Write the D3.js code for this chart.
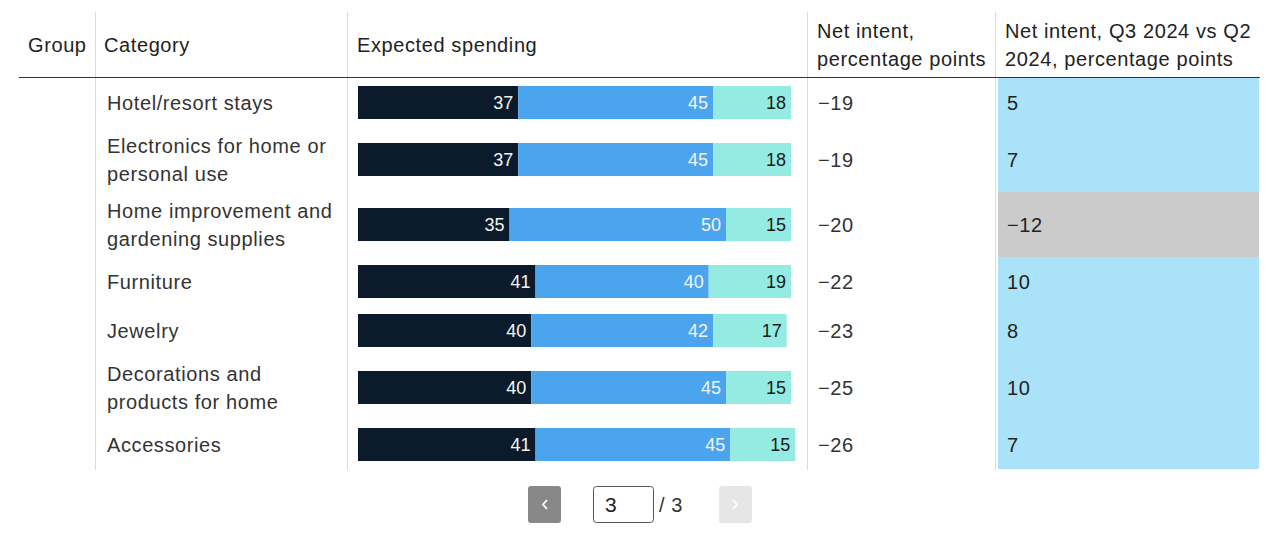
<!DOCTYPE html>
<html>
<head>
<meta charset="utf-8">
<script src="https://cdn.jsdelivr.net/npm/d3@7"></script>
<style>
  html, body { margin: 0; padding: 0; background: #fff; }
  svg { display: block; font-family: "Liberation Sans", Arial, sans-serif; }
</style>
</head>
<body>
<svg id="chart" width="1276" height="542"></svg>
<script>
// ---- data ----
const headers = ["Group", "Category", "Expected spending", "Net intent,\npercentage points", "Net intent, Q3 2024 vs Q2\n2024, percentage points"];
const categories = [
  "Hotel/resort stays",
  "Electronics for home or\npersonal use",
  "Home improvement and\ngardening supplies",
  "Furniture",
  "Jewelry",
  "Decorations and\nproducts for home",
  "Accessories"
];
const decrease = [37, 37, 35, 41, 40, 40, 41];
const stay = [45, 45, 50, 40, 42, 45, 45];
const increase = [18, 18, 15, 19, 17, 15, 15];
const netIntent = [-19, -19, -20, -22, -23, -25, -26];
const netChange = [5, 7, -12, 10, 8, 10, 7];
const currentPage = 3, totalPages = 3;

// ---- layout ----
const svg = d3.select("#chart");
const fmt = v => (v < 0 ? "\u2212" + Math.abs(v) : String(v));
const colX = { group: 28, cat: 107, bar: 358, net: 818, chg: 1007 };
const sepX = [95, 347, 807, 995];
const headerLineY = 77;
const lineH = 28;
const LS = 0.6;

const rows = categories.map((c, i) => {
  const lines = c.split("\n");
  return { i, lines, h: lines.length > 1 ? 65 : 49 };
});
let yAcc = headerLineY + 1;
rows.forEach(r => { r.y0 = yAcc; yAcc += r.h; r.cy = r.y0 + r.h / 2; });
const tableBottom = yAcc;

const x = d3.scaleLinear().domain([0, 100]).range([colX.bar, 791]);
const barH = 33;

// change column cells
svg.append("g").selectAll("rect").data(rows).join("rect")
  .attr("x", 998).attr("width", 1259 - 998)
  .attr("y", r => r.y0).attr("height", r => r.h)
  .attr("fill", r => netChange[r.i] < 0 ? "#cbcbcb" : "#aae3f9");

// separators
svg.append("g").selectAll("line").data(sepX).join("line")
  .attr("x1", d => d + 0.5).attr("x2", d => d + 0.5)
  .attr("y1", 12).attr("y2", tableBottom + 1)
  .attr("stroke", "#dcdcdc").attr("stroke-width", 1);

// header line
svg.append("line").attr("x1", 19).attr("x2", 1260)
  .attr("y1", headerLineY + 0.5).attr("y2", headerLineY + 0.5)
  .attr("stroke", "#333").attr("stroke-width", 1.2);

// headers
const headerXs = [28, 104, 357, 817, 1005];
headers.forEach((h, k) => {
  const lines = h.split("\n");
  const t = svg.append("text").attr("x", headerXs[k]).attr("fill", "#222")
    .attr("font-size", 20).attr("letter-spacing", LS);
  lines.forEach((ln, j) => {
    const cy = lines.length === 1 ? 45 : 31 + j * lineH;
    t.append("tspan").attr("x", headerXs[k]).attr("y", cy).attr("dy", "0.35em").text(ln);
  });
});

// category labels
svg.append("g").selectAll("text").data(rows).join("text")
  .attr("fill", "#333").attr("font-size", 20).attr("letter-spacing", LS)
  .each(function (r) {
    const t = d3.select(this);
    const n = r.lines.length;
    r.lines.forEach((ln, j) => {
      t.append("tspan").attr("x", colX.cat)
        .attr("y", r.cy + (j - (n - 1) / 2) * lineH).attr("dy", "0.35em").text(ln);
    });
  });

// stacked bars
const segColors = ["#0c1b2b", "#4ba5ee", "#93ebe2"];
const segText = ["#f4f4f4", "#f4f4f4", "#1a1a1a"];
const stackKeys = [decrease, stay, increase];
rows.forEach(r => {
  let acc = 0;
  stackKeys.forEach((arr, k) => {
    const v = arr[r.i];
    const x0 = x(acc), x1 = x(acc + v);
    acc += v;
    svg.append("rect").attr("x", x0).attr("width", x1 - x0)
      .attr("y", r.cy - barH / 2).attr("height", barH).attr("fill", segColors[k]);
    svg.append("text").attr("x", x1 - 5).attr("y", r.cy).attr("dy", "0.35em")
      .attr("text-anchor", "end").attr("font-size", 18)
      .attr("fill", segText[k]).text(v);
  });
});

// net intent
svg.append("g").selectAll("text").data(rows).join("text")
  .attr("x", colX.net).attr("y", r => r.cy).attr("dy", "0.35em").attr("letter-spacing", LS)
  .attr("font-size", 20).attr("fill", "#333").text(r => fmt(netIntent[r.i]));

// net change
svg.append("g").selectAll("text").data(rows).join("text")
  .attr("x", colX.chg).attr("y", r => r.cy).attr("dy", "0.35em").attr("letter-spacing", LS)
  .attr("font-size", 20).attr("fill", "#222").text(r => fmt(netChange[r.i]));

// pagination
const pg = svg.append("g");
const by = 486, bh = 37;
pg.append("rect").attr("x", 528).attr("y", by).attr("width", 33).attr("height", bh)
  .attr("rx", 3).attr("fill", "#888");
pg.append("path").attr("d", `M547,${by + 14} l-4,4.5 l4,4.5`)
  .attr("fill", "none").attr("stroke", "#fff").attr("stroke-width", 1.8);
pg.append("rect").attr("x", 593.5).attr("y", by + 0.5).attr("width", 60).attr("height", bh - 1)
  .attr("rx", 3).attr("fill", "#fff").attr("stroke", "#555").attr("stroke-width", 1);
pg.append("text").attr("x", 605).attr("y", by + bh / 2).attr("dy", "0.35em")
  .attr("font-size", 21).attr("fill", "#222").text(currentPage);
pg.append("text").attr("x", 659).attr("y", by + bh / 2).attr("dy", "0.35em").attr("letter-spacing", LS)
  .attr("font-size", 20).attr("fill", "#333").text("/ " + totalPages);
pg.append("rect").attr("x", 719).attr("y", by).attr("width", 33).attr("height", bh)
  .attr("rx", 3).attr("fill", "#e6e6e6");
pg.append("path").attr("d", `M733,${by + 14} l4,4.5 l-4,4.5`)
  .attr("fill", "none").attr("stroke", "#fff").attr("stroke-width", 1.8);
</script>
</body>
</html>
